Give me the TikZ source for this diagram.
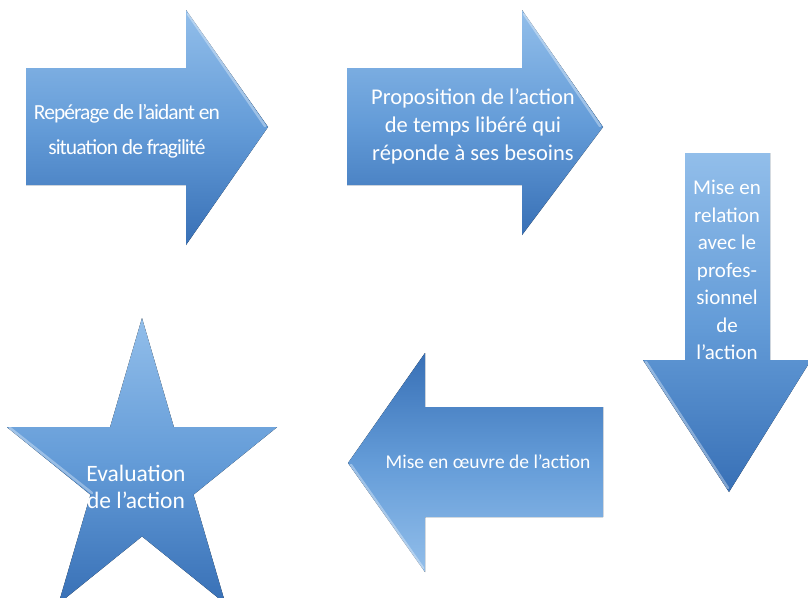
\documentclass[tikz,border=0pt]{standalone}
\usepackage{fontspec}
\setmainfont{Carlito}
\newfontfamily\tightfont[LetterSpace=-4.5]{Carlito}
\usepackage{tikz}
\usetikzlibrary{positioning,calc}

\definecolor{skylight}{RGB}{146,190,234}
\definecolor{skymid}{RGB}{100,156,216}
\definecolor{skydark}{RGB}{56,112,182}

\tikzset{
    flow/.style={top color=skylight, bottom color=skydark, middle color=skymid, draw=none},
    flowflip/.style={top color=skydark, bottom color=skylight, middle color=skymid, draw=none},
    rim/.style={line width=2.5pt, draw=white, draw opacity=0.35, line cap=round},
    lbl/.style={text=white, align=center, inner sep=0pt}
}

\begin{document}
\begin{tikzpicture}[x=1pt, y=-1pt]
    \useasboundingbox (0,0) rectangle (808,597);

    % arrows
    \fill[flow] (26,68) -- (186,68) -- (186,10) -- (268,127) -- (186,245) -- (186,185) -- (26,185) -- cycle;
    \fill[flow] (347,68) -- (522,68) -- (522,10) -- (603,127) -- (522,235) -- (522,185) -- (347,185) -- cycle;
    \fill[flow] (685,153) -- (770,153) -- (770,360) -- (811,360) -- (729,492) -- (643,360) -- (685,360) -- cycle;
    \fill[flowflip] (348,463) -- (425,353) -- (425,407) -- (603,407) -- (603,517) -- (425,517) -- (425,572) -- cycle;
    % star
    \fill[flow] (142,318) -- (173.9,427.1) -- (277,427.2) -- (193.5,494.7) -- (225.5,603.8) -- (142,536.4)
        -- (58.5,603.8) -- (90.5,494.7) -- (7,427.2) -- (110.1,427.1) -- cycle;

    % bevel edges
    \path[rim] (188,14) -- (265,126);
    \path[rim] (524,14) -- (600,126);
    \path[rim] (646,362) -- (728,488);
    \path[rim] (351,465) -- (423,568);
    \path[rim] (10,428) -- (92,493);

    \node[lbl, font=\tightfont\fontsize{21.5}{35}\selectfont] (repere) at (127,131) {Repérage de l’aidant en\\situation de fragilité};
    \node[lbl, font=\fontsize{22.5}{28}\selectfont] (propo) at (473,126) {Proposition de l’action\\de temps libéré qui\\réponde à ses besoins};
    \node[lbl, font=\fontsize{21}{27.5}\selectfont] (relation) at (727,270) {Mise en\\relation\\avec le\\profes-\\sionnel\\de\\l’action};
    \node[lbl, font=\fontsize{19.5}{28}\selectfont] (oeuvre) at (488,462) {Mise en œuvre de l’action};
    \node[lbl, font=\fontsize{23.5}{27}\selectfont] (evaluation) at (136,487) {Evaluation\\de l’action};
\end{tikzpicture}
\end{document}
